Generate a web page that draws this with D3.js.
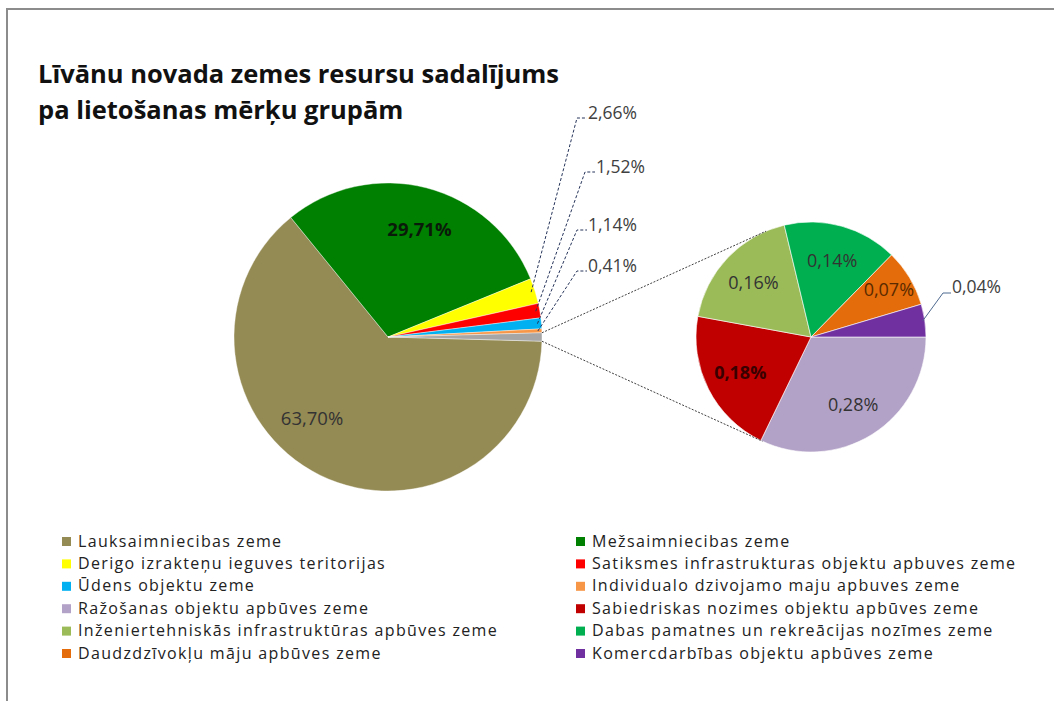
<!DOCTYPE html>
<html>
  <head>
    <meta charset="utf-8">
    <title>Līvānu novada zemes resursi</title>
    <script src="https://d3js.org/d3.v7.min.js"></script>
    <style>
      body { margin: 0; background: #fff; }
      svg text { font-family: "Open Sans", "DejaVu Sans", sans-serif; }
    </style>
  </head>
  <body>
    <svg width="1054" height="701"></svg>

    <script>
      // data: land use groups, % of the municipality area
      var categories = [
        "Lauksaimniecibas zeme",
        "Mežsaimniecibas zeme",
        "Derigo izrakteņu ieguves teritorijas",
        "Satiksmes infrastrukturas objektu apbuves zeme",
        "Ūdens objektu zeme",
        "Individualo dzivojamo maju apbuves zeme",
        "Ražošanas objektu apbūves zeme",
        "Sabiedriskas nozimes objektu apbūves zeme",
        "Inženiertehniskās infrastruktūras apbūves zeme",
        "Dabas pamatnes un rekreācijas nozīmes zeme",
        "Daudzdzīvokļu māju apbūves zeme",
        "Komercdarbības objektu apbūves zeme"
      ];
      var values = [63.70, 29.71, 2.66, 1.52, 1.14, 0.41, 0.28, 0.18, 0.16, 0.14, 0.07, 0.04];
      var colors = ["#948A54", "#008000", "#FFFF00", "#FF0000", "#00B0F0", "#F79646",
                    "#B3A2C7", "#C00000", "#9BBB59", "#00B050", "#E46C0A", "#7030A0"];
      // first 6 go to the main pie, the rest are split out into the small pie
      var mainCount = 6;
      var titleLines = ["Līvānu novada zemes resursu sadalījums", "pa lietošanas mērķu grupām"];

      var svg = d3.select("svg");
      var fmt = function(v) { return d3.format(".2f")(v).replace(".", ",") + "%"; };

      // frame
      svg.append("line").attr("x1", 6).attr("y1", 9).attr("x2", 1054).attr("y2", 9)
        .attr("stroke", "#8c8c8c").attr("stroke-width", 2);
      svg.append("line").attr("x1", 7).attr("y1", 9).attr("x2", 7).attr("y2", 701)
        .attr("stroke", "#8c8c8c").attr("stroke-width", 2);

      // title
      svg.append("text")
        .attr("font-size", "25.5px")
        .attr("font-weight", "bold")
        .attr("fill", "#111")
        .selectAll("tspan")
        .data(titleLines)
        .enter().append("tspan")
        .attr("x", 38)
        .attr("y", function(d, i) { return 83 + i * 36; })
        .text(function(d) { return d; });

      // build the items
      var items = categories.map(function(c, i) {
        return { name: c, value: values[i], color: colors[i], idx: i };
      });
      var mainItems = items.slice(0, mainCount);
      var subItems = items.slice(mainCount);
      var otherValue = d3.sum(subItems, function(d) { return d.value; });
      var total = d3.sum(items, function(d) { return d.value; });
      mainItems.push({ name: "other", value: otherValue, color: "#A6A6A6", idx: -1 });

      // main pie: "other" slice centred at 3 o'clock
      var cx1 = 388, cy1 = 337, r1 = 154;
      var otherAngle = 2 * Math.PI * otherValue / total;
      var start1 = Math.PI / 2 + otherAngle / 2;
      var pie1 = d3.pie().sort(null).value(function(d) { return d.value; })
        .startAngle(start1).endAngle(start1 + 2 * Math.PI);
      var arc1 = d3.arc().innerRadius(0).outerRadius(r1);
      var arcs1 = pie1(mainItems);

      var g1 = svg.append("g").attr("transform", "translate(" + cx1 + "," + cy1 + ")");
      g1.selectAll("path")
        .data(arcs1)
        .enter().append("path")
        .attr("d", arc1)
        .attr("fill", function(d) { return d.data.color; })
        .attr("stroke", "#fff")
        .attr("stroke-width", 0.4);

      // second pie
      var cx2 = 811, cy2 = 337, r2 = 115;
      var pie2 = d3.pie().sort(null).value(function(d) { return d.value; })
        .startAngle(Math.PI / 2).endAngle(Math.PI / 2 + 2 * Math.PI);
      var arc2 = d3.arc().innerRadius(0).outerRadius(r2);
      var arcs2 = pie2(subItems);

      var g2 = svg.append("g").attr("transform", "translate(" + cx2 + "," + cy2 + ")");
      g2.selectAll("path")
        .data(arcs2)
        .enter().append("path")
        .attr("d", arc2)
        .attr("fill", function(d) { return d.data.color; })
        .attr("stroke", "#fff")
        .attr("stroke-width", 0.6);

      function pt(cx, cy, r, a) { return [cx + r * Math.sin(a), cy - r * Math.cos(a)]; }

      // connector lines between the pies
      var other = arcs1[arcs1.length - 1];
      var conTop = [pt(cx1, cy1, r1, other.startAngle), pt(cx2, cy2, r2, -23 * Math.PI / 180)];
      var conBot = [pt(cx1, cy1, r1, other.endAngle), pt(cx2, cy2, r2, 205 * Math.PI / 180)];
      [conTop, conBot].forEach(function(c) {
        svg.append("line")
          .attr("x1", c[0][0]).attr("y1", c[0][1])
          .attr("x2", c[1][0]).attr("y2", c[1][1])
          .attr("stroke", "#404040")
          .attr("stroke-width", 1)
          .attr("stroke-dasharray", "2,1.5");
      });

      // labels inside the big slices
      var lblArc1 = d3.arc().innerRadius(r1 * 0.72).outerRadius(r1 * 0.72);
      var mainNudge = { 0: [-27, -18], 1: [4, 0] };
      arcs1.slice(0, 2).forEach(function(d, i) {
        var c = lblArc1.centroid(d);
        var n = mainNudge[i];
        g1.append("text")
          .attr("x", c[0] + n[0]).attr("y", c[1] + n[1])
          .attr("dy", "0.35em")
          .attr("text-anchor", "middle")
          .attr("font-size", "18.5px")
          .attr("font-weight", i == 1 ? "bold" : "normal")
          .attr("fill", i == 1 ? "#0a1a0a" : "#333")
          .text(fmt(d.data.value));
      });

      // outside labels for the thin slices of the main pie
      var outY = [113, 167, 225, 266];
      var outX = [588, 596, 588, 588];
      arcs1.slice(2, 6).forEach(function(d, i) {
        var a = (d.startAngle + d.endAngle) / 2;
        var p = pt(cx1, cy1, r1 - 4, a);
        var by = outY[i] + 5;
        svg.append("path")
          .attr("d", "M" + p[0] + "," + p[1] + "L" + (outX[i] - 11) + "," + by + "L" + (outX[i] - 1) + "," + by)
          .attr("fill", "none")
          .attr("stroke", "#26345a")
          .attr("stroke-width", 1)
          .attr("stroke-dasharray", "3,2");
        svg.append("text")
          .attr("x", outX[i]).attr("y", outY[i])
          .attr("dy", "0.35em")
          .attr("font-size", "17.5px")
          .attr("fill", "#404040")
          .text(fmt(d.data.value));
      });

      // labels for the second pie
      var lblArc2 = d3.arc().innerRadius(r2 * 0.69).outerRadius(r2 * 0.69);
      var subRadius = { 4: 0.79 };
      arcs2.forEach(function(d, i) {
        if (i == 5) return;
        var c = lblArc2.centroid(d);
        if (subRadius[i]) {
          c = pt(0, 0, r2 * subRadius[i], (d.startAngle + d.endAngle) / 2);
        }
        g2.append("text")
          .attr("x", c[0]).attr("y", c[1])
          .attr("dy", "0.35em")
          .attr("text-anchor", "middle")
          .attr("font-size", "18px")
          .attr("font-weight", i == 1 ? "bold" : "normal")
          .attr("fill", i == 1 ? "#3a0000" : (i == 4 ? "#5a2a00" : "#333"))
          .text(fmt(d.data.value));
      });

      // small purple slice label outside
      var last = arcs2[5];
      var lp = pt(cx2, cy2, r2 - 2, (last.startAngle + last.endAngle) / 2);
      svg.append("path")
        .attr("d", "M" + lp[0] + "," + lp[1] + "L943,293L951,293")
        .attr("fill", "none")
        .attr("stroke", "#4f6a90")
        .attr("stroke-width", 1);
      svg.append("text")
        .attr("x", 952).attr("y", 287)
        .attr("dy", "0.35em")
        .attr("font-size", "17.5px")
        .attr("fill", "#404040")
        .text(fmt(last.data.value));

      // legend, two columns
      var colX = [62, 576];
      var legend = svg.append("g").selectAll("g")
        .data(items)
        .enter().append("g")
        .attr("transform", function(d, i) {
          return "translate(" + colX[i % 2] + "," + (541 + Math.floor(i / 2) * 22.4) + ")";
        });
      legend.append("rect")
        .attr("x", 0).attr("y", -4)
        .attr("width", 9).attr("height", 9)
        .attr("fill", function(d) { return d.color; });
      legend.append("text")
        .attr("x", 16).attr("y", 0)
        .attr("dy", "0.35em")
        .attr("font-size", "16px")
        .attr("letter-spacing", "1.35px")
        .attr("fill", "#222")
        .text(function(d) { return d.name; });
    </script>
  </body>
</html>
